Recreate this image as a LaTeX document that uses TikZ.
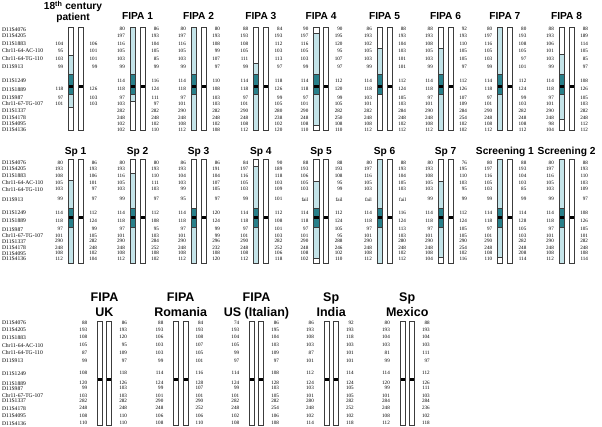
\documentclass[tikz,border=0pt]{standalone}
\usepackage{fontspec}
\setmainfont{Liberation Serif}
\newfontfamily\ttlfont{Liberation Sans}
\definecolor{lb}{RGB}{196,228,233}
\definecolor{tealc}{RGB}{40,128,138}
\definecolor{ybar}{RGB}{250,250,20}
\definecolor{bout}{RGB}{60,60,60}
\tikzset{
  num/.style={font=\fontsize{5.1}{5}\selectfont, inner sep=0pt, anchor=east},
  lab/.style={font=\fontsize{5.6}{5}\selectfont, inner sep=0pt, anchor=west},
  ttl/.style={font=\ttlfont\bfseries\fontsize{10.2}{11}\selectfont, inner sep=0pt, anchor=base},
  ttlc/.style={font=\ttlfont\bfseries\fontsize{12.5}{14}\selectfont, inner sep=0pt, anchor=base},
  barbox/.style={draw=bout, line width=0.6pt},
  sepline/.style={draw=bout, line width=0.4pt},
}
\newcommand\setrowA{\def\rtop{27.3}\def\rbot{130.7}\def\ttop{74.5}\def\tbot{94.3}\def\yt{85.2}\def\yb{88.2}%
  \def\ylist{{29.3,35.7,44,51,59,67,80.7,89.3,97.7,104,110.5,117.5,123.5,129.5}}\def\tbase{20}}
\newcommand\setrowB{\def\rtop{159}\def\rbot{263.3}\def\ttop{208.3}\def\tbot{227.7}\def\yt{215.7}\def\yb{218.9}%
  \def\ylist{{162.7,169,176,182.7,189.3,199.3,212.7,221,229.3,235.5,241.3,247.5,253.3,259}}\def\tbase{154.5}}
\newcommand\setrowC{\def\ylist{{322.7,330,337.3,345.2,352.7,360.7,373.3,383.3,388.3,396,401,408.3,416,423.3}}}
\newcommand\mklabels[1]{%
  \foreach \s [count=\i] in {D11S4076,D11S4205,D11S1883,Chr11-64-AC-110,Chr11-64-TG-110,D11S913,D11S1249,D11S1889,D11S987,Chr11-67-TG-107,D11S1337,D11S4178,D11S4095,D11S4136}
    {\pgfmathsetmacro\yy{\ylist[\i-1]}\node[lab] (#1\i) at (2,\yy) {\s};}}
\newcommand\panel[7]{%
  \pgfmathsetmacro\xa{#2}%
  \pgfmathsetmacro\xb{#2+9.9}%
  \fill[lb] (\xa,#3) rectangle (\xa+5.3,#4);
  \fill[tealc] (\xa,\ttop) rectangle (\xa+5.3,\tbot);
  \fill[ybar] (\xa,\yt) rectangle (\xa+5.3,\yb);
  \draw[sepline] (\xa,#3) -- (\xa+5.3,#3) (\xa,#4) -- (\xa+5.3,#4)
     (\xa,\ttop) -- (\xa+5.3,\ttop) (\xa,\tbot) -- (\xa+5.3,\tbot);
  \draw[barbox] (\xa,\rtop) rectangle (\xa+5.3,\rbot);
  \fill[black] (\xb,\yt+0.3) rectangle (\xb+5.3,\yb-0.3);
  \draw[barbox] (\xb,\rtop) rectangle (\xb+5.3,\rbot);
  \if\relax\detokenize{#5}\relax\else
  \foreach \v [count=\i] in {#5}{\pgfmathsetmacro\yy{\ylist[\i-1]}\node[num] (#1L\i) at (\xa-5,\yy) {\v};}
  \foreach \v [count=\i] in {#6}{\pgfmathsetmacro\yy{\ylist[\i-1]}\node[num] (#1R\i) at (\xa+29.2,\yy) {\v};}
  \fi
  \if\relax\detokenize{#7}\relax\else
  \node[ttl] (#1T) at (\xa+7.6,\tbase) {#7};
  \fi}
\newcommand\panelC[6]{%
  \pgfmathsetmacro\xa{#2}%
  \pgfmathsetmacro\xb{#2+9.3}%
  \fill[ybar] (\xa,377.7) rectangle (\xa+5,381);
  \draw[barbox] (\xa,321.7) rectangle (\xa+5,425.7);
  \fill[black] (\xb,378.3) rectangle (\xb+5,380.7);
  \draw[barbox] (\xb,321.7) rectangle (\xb+5,425.7);
  \foreach \v [count=\i] in {#3}{\pgfmathsetmacro\yy{\ylist[\i-1]}\node[num] (#1L\i) at (\xa-10,\yy) {\v};}
  \foreach \v [count=\i] in {#4}{\pgfmathsetmacro\yy{\ylist[\i-1]}\node[num] (#1R\i) at (\xa+29.9,\yy) {\v};}
  \node[ttlc] (#1Ta) at (\xa+7.2,301.7) {#5};
  \node[ttlc] (#1Tb) at (\xa+7.2,316.7) {#6};}
\begin{document}
\begin{tikzpicture}[x=1pt,y=-1pt]
\useasboundingbox[fill=white] (0,0) rectangle (602,427);
% ---------------- row 1
\setrowA
\mklabels{LA}
\panel{p0}{68.3}{55}{107.3}{}{}{}
\foreach \i/\v in {3/104,4/95,5/103,6/99,8/118,9/97,10/101}
  {\pgfmathsetmacro\yy{\ylist[\i-1]}\node[num] (p0L\i) at (63.3,\yy) {\v};}
\foreach \i/\v in {3/106,4/101,5/101,6/99,8/126,9/103,10/103}
  {\pgfmathsetmacro\yy{\ylist[\i-1]}\node[num] (p0R\i) at (97.5,\yy) {\v};}
\node[ttl] (p0Ta) at (73,10) {18\textsuperscript{th} century};
\node[ttl] (p0Tb) at (73,21) {patient};
\panel{f1}{130}{27.3}{101.7}{80,197,116,105,103,99,114,118,97,103,282,248,102,102}{86,193,104,105,85,99,116,124,111,97,282,248,102,110}{FIPA 1}
\panel{f2}{191}{27.3}{130.7}{80,197,116,105,103,99,114,118,97,101,290,248,108,112}{80,193,108,99,107,97,110,108,103,103,282,248,102,108}{FIPA 2}
\panel{f3}{253.3}{63.3}{130.7}{88,193,108,105,111,99,114,118,97,101,290,248,108,112}{84,193,112,103,113,97,118,126,99,105,280,238,102,120}{FIPA 3}
\panel{f4}{313.5}{33.3}{125}{90,197,116,105,103,99,114,118,97,101,290,248,108,110}{90,195,120,95,107,97,112,120,99,105,282,250,108,110}{FIPA 4}
\panel{f5}{377}{48.3}{94.3}{86,193,102,105,103,99,114,118,103,101,282,248,108,112}{88,193,104,103,101,101,112,124,105,103,284,248,102,112}{FIPA 5}
\panel{f6}{438}{48.3}{130.7}{88,193,108,105,103,99,114,118,97,101,290,248,108,112}{92,193,110,105,105,97,112,126,107,109,284,254,102,102}{FIPA 6}
\panel{f7}{497.3}{27.3}{130.7}{80,197,116,105,103,99,114,118,97,101,290,248,108,112}{80,193,108,105,97,101,112,124,99,103,282,248,108,112}{FIPA 7}
\panel{f8}{559}{54.3}{119}{88,193,106,101,103,99,114,118,97,101,290,248,98,104}{88,189,114,105,85,97,108,126,105,103,282,248,112,112}{FIPA 8}
% ---------------- row 2
\setrowB
\mklabels{LB}
\panel{s1}{68}{180.7}{263.3}{80,193,108,105,103,99,114,118,97,101,290,248,108,112}{86,193,106,101,97,97,112,124,99,105,282,248,102,104}{Sp 1}
\panel{s2}{130}{173.3}{263.3}{80,193,116,105,103,99,114,118,97,101,290,248,108,112}{80,193,110,111,103,97,112,108,95,103,284,252,108,102}{Sp 2}
\panel{s3}{191}{208.3}{263.3}{86,193,104,103,99,95,114,118,97,101,290,248,108,112}{86,191,104,107,105,97,120,124,99,99,296,232,108,120}{Sp 3}
\panel{s4}{253.3}{166.7}{263.3}{84,197,116,105,103,99,114,118,97,101,290,248,108,112}{90,189,118,103,109,101,112,108,101,103,282,252,106,118}{Sp 4}
\panel{s5}{313.5}{181.7}{258.3}{88,193,106,105,103,fail,114,118,97,101,290,248,108,102}{88,193,108,95,99,fail,112,124,105,95,288,246,102,110}{Sp 5}
\panel{s6}{377}{159}{263.3}{80,197,116,105,103,fail,114,118,97,101,290,248,108,112}{88,193,104,105,103,fail,116,124,113,103,280,248,102,112}{Sp 6}
\panel{s7}{438}{181}{257.7}{80,193,108,105,103,99,114,118,97,101,290,248,108,104}{76,195,110,103,95,99,112,124,105,105,290,254,102,116}{Sp 7}
\panel{c1}{497.3}{159}{257.3}{80,197,116,105,103,99,114,118,97,101,290,248,108,110}{88,193,104,103,85,99,114,128,105,103,282,248,208,114}{Screening 1}
\panel{c2}{559}{159}{263.3}{80,197,116,105,103,99,114,118,97,101,290,248,108,112}{88,193,110,103,109,97,108,126,105,101,282,248,108,114}{Screening 2}
% ---------------- row 3
\setrowC
\mklabels{LC}
\panelC{u1}{97.3}{88,193,108,105,87,99,108,120,99,103,282,248,108,110}{86,193,120,95,109,97,118,126,103,103,282,248,110,110}{FIPA}{UK}
\panelC{u2}{173.5}{88,193,106,103,103,99,114,124,99,101,290,248,106,108}{84,193,108,107,105,101,116,128,107,101,290,252,106,110}{FIPA}{Romania}
\panelC{u3}{249.3}{74,193,104,105,99,97,114,124,99,101,282,248,102,108}{86,195,104,103,109,97,108,128,103,105,282,254,106,108}{FIPA}{US (Italian)}
\panelC{u4}{324}{86,193,108,103,87,101,112,124,103,101,280,248,102,114}{92,193,118,103,101,101,114,124,105,105,282,252,102,118}{Sp}{India}
\panelC{u5}{400}{80,193,104,103,81,99,114,120,99,101,284,248,108,112}{88,193,104,103,111,97,112,126,111,103,284,236,102,118}{Sp}{Mexico}
\end{tikzpicture}
\end{document}
